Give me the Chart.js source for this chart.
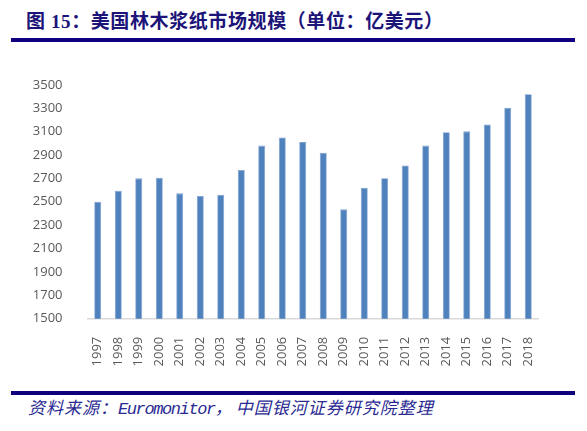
<!DOCTYPE html>
<html>
<head>
<meta charset="utf-8">
<style>
    body { margin: 0; width: 587px; height: 431px; background: #fff; position: relative; overflow: hidden; }
    #title {
        position: absolute; left: 26px; top: 10.5px; white-space: nowrap;
        font: bold 19px/22px "Liberation Serif", "Noto Sans CJK SC", serif;
        letter-spacing: 0.6px; color: #1c1478;
    }
    .rule { position: absolute; left: 11px; width: 564px; height: 4px; background: #10007f; }
    #chartBox { position: absolute; left: 0; top: 60px; width: 587px; height: 310px; }
    #source {
        position: absolute; left: 28px; top: 399px; white-space: nowrap;
        font: italic 17px/22px "Liberation Mono", "Noto Sans CJK SC", monospace;
        letter-spacing: 1px; color: #2a2a92;
    }
    #source .en { letter-spacing: -1.4px; }
</style>
</head>
<body>
    <div id="title">图 15：美国林木浆纸市场规模（单位：亿美元）</div>
    <div class="rule" style="top:38px"></div>
    <div id="chartBox"><canvas id="chartId"></canvas></div>
    <div class="rule" style="top:391px"></div>
    <div id="source">资料来源：<span class="en">Euromonitor</span>，<span style="margin-left:3px">中国银河证券研究院整理</span></div>

    <script src="https://cdn.jsdelivr.net/npm/chart.js"></script>
    <script>
        // 데이터
        const years = ['1997', '1998', '1999', '2000', '2001', '2002', '2003', '2004', '2005', '2006', '2007',
                       '2008', '2009', '2010', '2011', '2012', '2013', '2014', '2015', '2016', '2017', '2018'];
        const marketSize = [2500, 2593, 2700, 2705, 2572, 2550, 2560, 2772, 2980, 3050, 3010,
                            2918, 2435, 2620, 2702, 2811, 2980, 3095, 3102, 3160, 3303, 3420];
        const yMin = 1500;
        const yMax = 3500;
        const yStep = 200;

        const chartCanvas = document.getElementById('chartId');

        new Chart(chartCanvas, {
            type: 'bar',
            data: {
                labels: years,
                datasets: [{
                    data: marketSize,
                    backgroundColor: '#4f81bd',
                    borderColor: '#7aa0d0',
                    borderWidth: 0.8,
                    barPercentage: 0.34,
                    categoryPercentage: 1
                }]
            },
            options: {
                responsive: true,
                maintainAspectRatio: false,
                animation: false,
                layout: { padding: { top: 21.7, right: 48.5, bottom: 0, left: 0 } },
                plugins: {
                    legend: { display: false },
                    tooltip: { enabled: false }
                },
                scales: {
                    x: {
                        grid: { display: false },
                        border: { display: true, color: '#d9d9d9', width: 1.5 },
                        ticks: {
                            minRotation: 90, maxRotation: 90, padding: 10,
                            color: '#595959', font: { family: 'Open Sans', size: 13 }
                        },
                        afterFit: scale => { scale.height = 51.3; }
                    },
                    y: {
                        min: yMin,
                        max: yMax,
                        grid: { display: false },
                        border: { display: false },
                        ticks: {
                            stepSize: yStep, padding: 17,
                            color: '#595959', font: { family: 'Open Sans', size: 13 },
                            callback: value => String(value)
                        },
                        afterFit: scale => { scale.width = 87.5; }
                    }
                }
            }
        });
    </script>
</body>
</html>
